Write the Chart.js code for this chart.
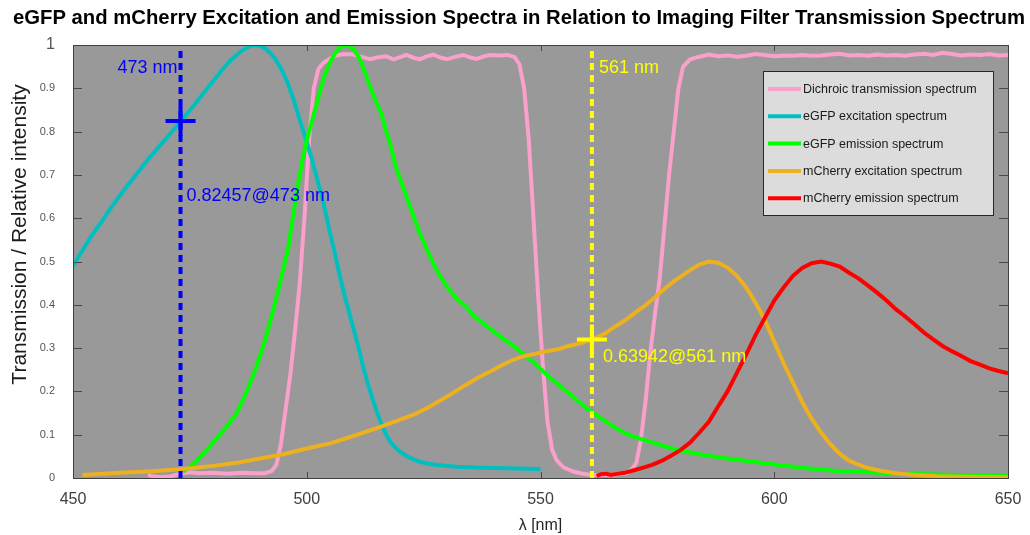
<!DOCTYPE html>
<html><head><meta charset="utf-8">
<script src="https://cdn.jsdelivr.net/npm/chart.js@4/dist/chart.umd.min.js"></script>
<style>html,body{margin:0;padding:0;background:#fff}#wrap{width:1030px;height:535px}</style>
</head><body><div id="wrap"><canvas id="c" width="1030" height="535"></canvas></div>
<script>
// ---------- DATA ----------
const titleText = 'eGFP and mCherry Excitation and Emission Spectra in Relation to Imaging Filter Transmission Spectrum';
const xTitle = 'λ [nm]';
const yTitle = 'Transmission / Relative intensity';
const seriesLabels = ['Dichroic transmission spectrum','eGFP excitation spectrum','eGFP emission spectrum','mCherry excitation spectrum','mCherry emission spectrum'];

const dichroicNm = [466,467,469,471,473,475,477,480,483,486,489,491,492.5,493.5,494.5,495.5,496.5,497.5,498.5,499.5,500.5,501.5,502.5,503.5,
  504,506,508,510,512,513.5,515,517,518.5,520,521.3,523,524.2,525.5,527.1,528.5,530,531.5,533.5,535,536.3,538,539.2,541,543,544.5,
  545.5,546.5,547.5,548.5,549.5,550.5,551.5,552.5,553.5,555,557,559,561,563,565,567,568.5,569.5,570.5,571.5,572.5,573.5,574.5,575.5,576.5,577.5,578.5,579.5,580.5,582,584,
  586,588,590,592,594,596,598,600,602,604,606,608,610,612,614,616,618,620,622,624,626,628,630,632,634,636,638,640,642,644,646,648,650];
const dichroicT = [0.008,0.004,0.002,0.004,0.010,0.013,0.011,0.012,0.010,0.012,0.011,0.011,0.016,0.030,0.080,0.160,0.240,0.340,0.450,0.600,0.780,0.900,0.945,0.958,
  0.962,0.975,0.979,0.978,0.972,0.967,0.971,0.974,0.967,0.972,0.977,0.970,0.967,0.973,0.978,0.971,0.967,0.972,0.977,0.971,0.968,0.974,0.977,0.976,0.977,0.972,
  0.955,0.900,0.780,0.600,0.420,0.260,0.130,0.065,0.040,0.024,0.015,0.010,0.007,0.007,0.007,0.009,0.011,0.020,0.035,0.090,0.180,0.290,0.380,0.460,0.580,0.700,0.800,0.900,0.950,0.967,0.973,
  0.978,0.974,0.976,0.973,0.975,0.979,0.977,0.974,0.976,0.975,0.977,0.975,0.976,0.978,0.980,0.976,0.977,0.975,0.978,0.976,0.977,0.975,0.978,0.980,0.977,0.982,0.979,0.976,0.978,0.977,0.979,0.976,0.977];

const gfpExNm = [450,452,454,456,458,460,462,464,466,468,470,472,474,476,478,480,482,484,486,488,489,490,491,492,493,494,495,496,497,498,499,500,501,502,503,504,505,506,507,508,509,510,511,512,513,514,515,516,517,518,519,520,522,524,526,528,532,536,540,545,550];
const gfpEx = [0.490,0.525,0.560,0.590,0.622,0.652,0.680,0.707,0.735,0.760,0.785,0.810,0.836,0.862,0.890,0.917,0.944,0.968,0.986,0.998,1.000,0.998,0.993,0.984,0.972,0.955,0.935,0.910,0.880,0.845,0.810,0.775,0.740,0.700,0.660,0.615,0.565,0.520,0.470,0.425,0.385,0.345,0.305,0.260,0.220,0.185,0.152,0.125,0.100,0.082,0.070,0.060,0.047,0.038,0.033,0.030,0.026,0.024,0.023,0.022,0.021];

const gfpEmNm = [473.5,475,477,479,481,483,485,487,489,491,493,494.5,496,497,498,499,500,501,502,503,504,505,506,507,508,509,510,511,512,513,514,515,516,517,518,519,520,521,522,523,524,525,526,528,530,532,534,536,538,540,542,544,546,548,550,552,554,556,558,560,562,564,566,568,570,573,576,580,585,590,595,600,605,610,615,620,625,630,640,650];
const gfpEm = [0.015,0.025,0.045,0.070,0.095,0.120,0.150,0.195,0.250,0.315,0.395,0.460,0.530,0.600,0.670,0.730,0.780,0.820,0.860,0.900,0.935,0.960,0.980,0.993,1.000,0.998,0.990,0.975,0.950,0.920,0.890,0.865,0.840,0.800,0.765,0.720,0.690,0.660,0.630,0.600,0.570,0.545,0.520,0.475,0.442,0.415,0.396,0.372,0.355,0.338,0.322,0.307,0.290,0.272,0.252,0.232,0.214,0.196,0.178,0.160,0.145,0.130,0.116,0.104,0.095,0.085,0.075,0.063,0.053,0.045,0.038,0.031,0.025,0.019,0.015,0.013,0.011,0.009,0.007,0.005];

const chExNm = [452,460,466,473,480,485,490,495,500,505,510,515,520,523,526,530,534,537,540,542,544,546,548,551,554,556,558.5,561,564,566,568,570,572,574,576,578,580,582,584,586,588,590,592,594,596,598,600,602,604,606,608,610,612,614,616,618,620,623,626,630,635,640,650];
const chEx = [0.007,0.012,0.015,0.020,0.028,0.035,0.045,0.055,0.068,0.080,0.097,0.115,0.135,0.147,0.163,0.188,0.215,0.234,0.250,0.262,0.272,0.280,0.285,0.292,0.298,0.305,0.311,0.320,0.335,0.350,0.363,0.380,0.395,0.413,0.432,0.450,0.465,0.480,0.493,0.500,0.497,0.486,0.467,0.440,0.405,0.365,0.315,0.265,0.220,0.175,0.137,0.105,0.078,0.056,0.040,0.031,0.023,0.016,0.011,0.007,0.004,0.003,0.002];

const chEmNm = [562,563,564,565,566,568,570,572,574,576,578,580,582,584,586,588,590,592,594,596,598,600,602,604,606,608,610,612,614,616,618,620,622,624,626,628,630,632,634,636,638,640,642,644,646,648,650];
const chEm = [0.005,0.009,0.010,0.007,0.009,0.012,0.018,0.024,0.031,0.040,0.052,0.065,0.082,0.105,0.130,0.165,0.200,0.243,0.285,0.330,0.370,0.410,0.440,0.467,0.485,0.496,0.500,0.495,0.488,0.474,0.461,0.445,0.428,0.410,0.390,0.373,0.355,0.336,0.320,0.305,0.293,0.282,0.270,0.262,0.253,0.247,0.242];

const laserNm = [473, 561];
const laserLabels = ['473 nm', '561 nm'];
const markerY = [0.82457, 0.32];
const markerLabels = ['0.82457@473 nm', '0.63942@561 nm'];
const markerLabelY = [0.651, 0.279];

const xTicks = [450, 500, 550, 600, 650];
const yTicks = [0,0.1,0.2,0.3,0.4,0.5,0.6,0.7,0.8,0.9,1];

// ---------- STYLE ----------
const seriesColors = ['#F9A0CB','#00BFBF','#00FF00','#EDB120','#FF0000'];
const laserColors = ['#0000FF','#FFFF00'];
const FONT = '"Liberation Sans", Arial, Helvetica, sans-serif';

const pts = (xs, ys) => xs.map((x, i) => ({x, y: ys[i]}));
const seriesX = [dichroicNm, gfpExNm, gfpEmNm, chExNm, chEmNm];
const seriesY = [dichroicT, gfpEx, gfpEm, chEx, chEm];

const datasets = seriesLabels.map((lab, i) => ({
  label: lab, data: pts(seriesX[i], seriesY[i]), borderColor: seriesColors[i], backgroundColor: seriesColors[i],
  borderWidth: 4, pointRadius: 0, tension: 0, fill: false, order: 10 - i
}));
laserNm.forEach((nm, i) => {
  datasets.push({ label: laserLabels[i], data: [{x: nm, y: 0}, {x: nm, y: 1}], borderColor: laserColors[i],
    borderWidth: 4, borderDash: [7, 5], pointRadius: 0, order: 3 });
  datasets.push({ label: markerLabels[i], data: [{x: nm, y: markerY[i]}], borderColor: laserColors[i], backgroundColor: laserColors[i],
    showLine: false, pointStyle: 'cross', pointRadius: 15, pointBorderWidth: 4, borderWidth: 4, order: 1 });
});

const boxPlugin = {
  id: 'boxPlugin',
  beforeDatasetsDraw(chart) {
    const {ctx, chartArea: a} = chart;
    ctx.save(); ctx.fillStyle = '#999999'; ctx.fillRect(a.left, a.top, a.right - a.left, a.bottom - a.top); ctx.restore();
  },
  afterDraw(chart) {
    const {ctx, chartArea: a} = chart;
    ctx.save();
    ctx.fillStyle = '#000'; ctx.font = 'bold 20.3px ' + FONT; ctx.textAlign = 'center'; ctx.textBaseline = 'middle';
    ctx.fillText(titleText, chart.width / 2 + 4, 18);
    ctx.save(); ctx.translate(20, (a.top + a.bottom) / 2 - 27); ctx.rotate(-Math.PI / 2);
    ctx.fillStyle = '#1a1a1a'; ctx.font = '21px ' + FONT; ctx.fillText(yTitle, 0, 0); ctx.restore();
    ctx.restore();
  },
  afterDatasetsDraw(chart) {
    const {ctx, chartArea: a, scales: {x, y}} = chart;
    ctx.save();
    ctx.strokeStyle = '#4a4a4a'; ctx.lineWidth = 1;
    ctx.beginPath();
    xTicks.forEach(v => { const px = Math.round(x.getPixelForValue(v)) + 0.5;
      ctx.moveTo(px, a.bottom); ctx.lineTo(px, a.bottom - 6); ctx.moveTo(px, a.top); ctx.lineTo(px, a.top + 6); });
    yTicks.forEach(v => { const py = Math.round(y.getPixelForValue(v)) + 0.5;
      ctx.moveTo(a.left, py); ctx.lineTo(a.left + 9, py); ctx.moveTo(a.right, py); ctx.lineTo(a.right - 9, py); });
    ctx.stroke();
    ctx.strokeStyle = '#404040';
    ctx.strokeRect(Math.round(a.left) + 0.5, Math.round(a.top) + 0.5, Math.round(a.right - a.left), Math.round(a.bottom - a.top));
    ctx.font = '18px ' + FONT; ctx.textBaseline = 'middle';
    laserNm.forEach((nm, i) => {
      ctx.fillStyle = laserColors[i];
      const px = x.getPixelForValue(nm);
      if (i === 0) { ctx.textAlign = 'right'; ctx.fillText(laserLabels[i], px - 3, y.getPixelForValue(0.946)); }
      else { ctx.textAlign = 'left'; ctx.fillText(laserLabels[i], px + 7, y.getPixelForValue(0.946)); }
      ctx.textAlign = 'left';
      ctx.fillText(markerLabels[i], px + (i === 0 ? 6 : 11), y.getPixelForValue(markerLabelY[i]));
    });
    const lx = a.left + 690, ly = a.top + 26, lw = 230, lh = 144;
    ctx.fillStyle = '#DCDCDC'; ctx.fillRect(lx, ly, lw, lh);
    ctx.strokeStyle = '#262626'; ctx.lineWidth = 1; ctx.strokeRect(lx + 0.5, ly + 0.5, lw, lh);
    ctx.font = '12.5px ' + FONT; ctx.textAlign = 'left'; ctx.textBaseline = 'middle';
    seriesLabels.forEach((lab, i) => {
      const yy = ly + 18 + i * 27.3;
      ctx.strokeStyle = seriesColors[i]; ctx.lineWidth = 4; ctx.setLineDash([]);
      ctx.beginPath(); ctx.moveTo(lx + 5, yy); ctx.lineTo(lx + 38, yy); ctx.stroke();
      ctx.fillStyle = '#1a1a1a'; ctx.fillText(lab, lx + 40, yy + 0.5);
    });
    ctx.restore();
  }
};

new Chart(document.getElementById('c'), {
  type: 'line',
  data: { datasets },
  options: {
    responsive: false, animation: false, devicePixelRatio: 1,
    layout: { padding: { left: 0, right: 22, top: 45, bottom: 0 } },
    plugins: { legend: { display: false }, tooltip: { enabled: false }, title: { display: false } },
    scales: {
      x: { type: 'linear', min: 450, max: 650, afterBuildTicks: s => { s.ticks = xTicks.map(v => ({value: v})); },
        afterFit: s => { s.height = 57; s.paddingLeft = 0; s.paddingRight = 0; },
        grid: { display: false, drawTicks: false }, border: { display: false },
        ticks: { color: '#404040', font: { family: FONT, size: 16 }, padding: 12, maxRotation: 0 },
        title: { display: true, text: xTitle, color: '#262626', font: { family: FONT, size: 16 }, padding: { top: 1, bottom: 0 } } },
      y: { type: 'linear', min: 0, max: 1, afterBuildTicks: s => { s.ticks = yTicks.map(v => ({value: v})); },
        afterFit: s => { s.width = 73; },
        grid: { display: false, drawTicks: false }, border: { display: false },
        ticks: { color: '#555555', padding: 18, callback: v => String(Math.round(v * 10) / 10),
          font: c => ({ family: FONT, size: (c.tick && c.tick.value === 1) ? 16 : 11 }) },
        title: { display: false } }
    }
  },
  plugins: [boxPlugin]
});
</script></body></html>
